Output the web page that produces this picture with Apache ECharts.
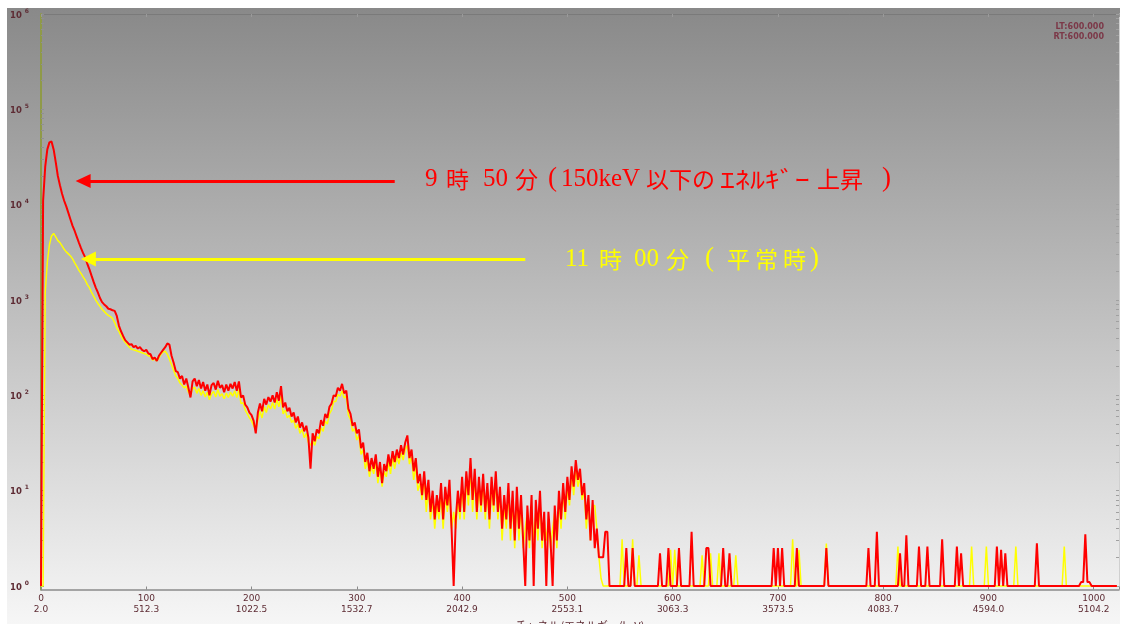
<!DOCTYPE html>
<html>
<head>
<meta charset="utf-8">
<script src="https://cdn.jsdelivr.net/npm/echarts@6/dist/echarts.min.js"></script>
<style>
  html, body { margin: 0; padding: 0; background: #ffffff; }
  #wrap { position: relative; width: 1131px; height: 624px; overflow: hidden; }
  #panel { position: absolute; left: 7px; top: 8px; width: 1113px; height: 616px;
           background: linear-gradient(#898989, #f6f6f6); }
  #chart { position: absolute; left: 0; top: 0; width: 1131px; height: 624px; }
</style>
</head>
<body>
<div id="wrap"><div id="panel"></div><div id="chart"></div></div>
<script>
// Spectrum counts, one value every CH_STEP channels.
const CH_STEP = 2;

// 09:50 spectrum, channels 0..540
const redCountsLow = [
  1, 11000, 25000, 38000, 45000, 46000, 38000, 28000, 20000, 16000,
  13000, 11000, 9600, 8200, 7000, 6000, 5300, 4600, 4000, 3500,
  3100, 2800, 2400, 2100, 1800, 1550, 1350, 1200, 1050, 950,
  900, 860, 810, 800, 780, 770, 680, 540, 470, 420,
  380, 360, 340, 345, 320, 330, 310, 320, 300, 290,
  300, 275, 270, 240, 250, 230, 260, 280, 300, 320,
  350, 340, 260, 220, 180, 175, 150, 160, 130, 150,
  120, 95, 140, 150, 125, 145, 118, 138, 112, 130,
  100, 128, 135, 115, 142, 120, 128, 108, 130, 112,
  132, 118, 138, 112, 140, 95, 100, 80, 75, 66,
  62, 54, 40, 66, 82, 68, 92, 80, 96, 86,
  100, 84, 108, 88, 125, 75, 84, 68, 74, 60,
  66, 52, 60, 46, 52, 42, 48, 36, 17, 40,
  33, 44, 40, 55, 48, 64, 58, 76, 82, 100,
  98, 120, 112, 132, 105, 112, 72, 64, 48, 52,
  40, 44, 28, 32, 20, 25, 16, 22, 17, 24,
  14, 20, 12, 19, 16, 24, 18, 26, 20, 27,
  22, 30, 24, 32, 38, 22, 27, 16, 22, 12,
  15, 9, 16, 8, 13, 6, 10, 5, 9, 6,
  12, 5, 11, 7, 13, 4, 1, 5, 10, 6,
  14, 6, 16, 9, 22, 8, 17, 6, 14, 7,
  15, 6, 12, 5, 14, 7, 16, 6, 11, 4,
  9, 5, 12, 4, 10, 3, 11, 4, 9, 3,
  1, 7, 3, 9, 1, 8, 4, 10, 3, 6,
  1, 6, 3, 1, 7, 3, 10, 5, 12, 6,
  14, 8, 18, 11, 21, 13, 17, 9, 12, 5,
  9, 3, 8, 2.5, 4, 2, 2, 2, 3.7, 3.7,
  1
];
// 09:50 spectrum, channels 542..1022
const redCountsHigh = [
  1, 1, 1, 1, 1, 1, 1, 2.5, 1, 1, 2.5, 1, 1, 1, 1, 1, 1, 1, 1, 1,
  1, 1, 1, 2.2, 1, 1, 1, 2.5, 1, 1, 1, 1, 2.5, 1, 1, 1, 1, 1, 3.7, 1,
  1, 1, 1, 1, 1, 2.5, 2.5, 1, 1, 1, 1, 1, 1, 2.5, 1, 1, 2.2, 1, 1, 1,
  1, 1, 1, 1, 1, 1, 1, 1, 1, 1, 1, 1, 1, 1, 1, 1, 1, 2.5, 1, 2.5,
  1, 2.5, 1, 1, 1, 1, 1, 1, 2.5, 1, 1, 1, 1, 1, 1, 1, 1, 1, 1, 1,
  1, 1, 2.5, 1, 1, 1, 1, 1, 1, 1, 1, 1, 1, 1, 1, 1, 1, 1, 1, 1,
  1, 1, 2.5, 1, 1, 1, 3.7, 1, 1, 1, 1, 1, 1, 1, 1, 1, 1, 2.2, 1, 1,
  3.4, 1, 1, 1, 1, 1, 2.6, 1, 1, 1, 2.6, 1, 1, 1, 1, 1, 1, 3.1, 1, 1,
  1, 1, 1, 1, 2.6, 1, 2.2, 1, 1, 1, 1, 1, 1, 1, 1, 1, 1, 1, 1, 1,
  1, 1, 1, 2.6, 1, 2.4, 1, 2.2, 1, 1, 1, 1, 1, 1, 1, 1, 1, 1, 1, 1,
  1, 1, 2.8, 1, 1, 1, 1, 1, 1, 1, 1, 1, 1, 1, 1, 1, 1, 1, 1, 1,
  1, 1, 1, 1.1, 1.1, 3.5, 1.1, 1.1, 1, 1, 1, 1, 1, 1, 1, 1, 1, 1, 1, 1,
  1
];

// 11:00 spectrum, channels 0..540
const yellowCountsLow = [
  1, 1, 1200, 2500, 3800, 4700, 5000, 4600, 4200, 4000,
  3700, 3400, 3200, 3050, 2900, 2700, 2450, 2250, 2050, 1900,
  1750, 1620, 1450, 1350, 1200, 1100, 1000, 920, 860, 800,
  760, 720, 690, 670, 640, 580, 510, 470, 420, 385,
  360, 340, 320, 305, 300, 295, 290, 285, 280, 275,
  270, 260, 255, 235, 240, 230, 245, 270, 285, 290,
  270, 240, 210, 185, 160, 150, 135, 128, 120, 125,
  108, 100, 118, 122, 105, 118, 100, 112, 96, 108,
  90, 104, 110, 96, 115, 98, 104, 92, 106, 95,
  108, 98, 112, 95, 115, 82, 84, 70, 64, 58,
  54, 48, 44, 55, 68, 58, 76, 66, 80, 72,
  84, 72, 90, 76, 98, 64, 70, 58, 62, 52,
  55, 45, 50, 40, 44, 36, 40, 32, 30, 34,
  30, 37, 35, 46, 42, 54, 50, 64, 70, 86,
  86, 102, 98, 112, 94, 98, 62, 56, 42, 45,
  34, 38, 24, 27, 17, 21, 14, 18, 15, 20,
  12, 17, 11, 16, 14, 20, 15, 22, 17, 23,
  19, 25, 21, 27, 30, 19, 23, 13, 18, 10,
  12, 8, 13, 6, 11, 5, 8, 4, 7, 5,
  9, 4, 9, 6, 10, 4, 6, 4, 8, 5,
  11, 5, 13, 7, 17, 6, 14, 5, 11, 6,
  12, 5, 10, 4, 11, 6, 13, 5, 9, 3,
  7, 4, 10, 3, 8, 2.5, 9, 3, 7, 2.5,
  4, 6, 2.5, 7, 3, 6, 3, 8, 2.5, 5,
  3, 5, 2.5, 4, 6, 2.5, 8, 4, 10, 5,
  11, 7, 15, 9, 17, 11, 14, 8, 10, 4,
  8, 3, 7, 7, 4, 2, 1.2, 1, 1, 1,
  1
];
// 11:00 spectrum, channels 542..1022
const yellowCountsHigh = [
  1, 1, 1, 1, 1, 3.1, 1, 1, 1, 1, 3.1, 1, 1, 2.1, 1, 1, 1, 1, 1, 1,
  1, 1, 1, 1, 1, 1, 1, 1, 2.4, 1, 2.4, 1, 1, 1, 1, 1, 1, 1, 1, 1,
  1, 1, 1, 2.1, 1, 1, 1, 2.2, 1, 1, 1, 2.2, 1, 1, 1, 1, 1, 1, 1, 2.1,
  1, 1, 1, 1, 1, 1, 1, 1, 1, 1, 1, 1, 1, 1, 1, 1, 1, 1, 1, 1,
  1, 1, 1, 1, 1, 1, 3.1, 1, 1, 2.4, 1, 1, 1, 1, 1, 1, 1, 1, 1, 1,
  1, 1, 2.8, 1, 1, 1, 1, 1, 1, 1, 1, 1, 1, 1, 1, 1, 1, 1, 1, 1,
  1, 1, 1, 1, 1, 1, 1, 1, 1, 1, 1, 1, 1, 1, 1, 1, 2.6, 1, 1, 1,
  1, 1, 1, 1, 1, 1, 1, 1, 1, 1, 1, 1, 1, 1, 1, 1, 1, 1, 1, 1,
  1, 1, 1, 1, 1, 1, 1, 1, 1, 1, 1, 2.6, 1, 1, 1, 1, 1, 1, 2.6, 1,
  1, 1, 1, 1, 1, 1, 1, 1, 1, 1, 1, 1, 2.6, 1, 1, 1, 1, 1, 1, 1,
  1, 1, 1, 1, 1, 1, 1, 1, 1, 1, 1, 1, 1, 1, 1, 2.6, 1, 1, 1, 1,
  1, 1, 1, 1, 1, 1, 1, 1, 1, 1, 1, 1, 1, 1, 1, 1, 1, 1, 1, 1,
  1
];

// Axis tick labels: channel number and the matching energy (keV)
const channelTicks = [0, 100, 200, 300, 400, 500, 600, 700, 800, 900, 1000];
const energyLabels = ['2.0', '512.3', '1022.5', '1532.7', '2042.9', '2553.1',
                      '3063.3', '3573.5', '4083.7', '4594.0', '5104.2'];
const decadeTicks = [1, 10, 100, 1000, 10000, 100000, 1000000];

// Annotation arrows: [channel of tail, channel of head, counts level]
const redArrow = [336, 40, 17700];
const yellowArrow = [460, 45, 2690];

const toPairs = (arr) => arr.map((v, i) => [i * CH_STEP, v]);
const redData = toPairs(redCountsLow.concat(redCountsHigh));
const yellowData = toPairs(yellowCountsLow.concat(yellowCountsHigh));

// log minor ticks 2..9 within each decade
const logTicks = [];
for (let k = 0; k < 6; k++) {
  for (let m = 1; m <= 9; m++) logTicks.push(m * Math.pow(10, k));
}
logTicks.push(1000000);

const labelColor = '#5e2c34';
const chart = echarts.init(document.getElementById('chart'), null, { renderer: 'canvas' });

function arrowLine(a, color, headSize) {
  return {
    silent: true,
    animation: false,
    symbol: ['none', 'triangle'],
    symbolSize: headSize,
    label: { show: false },
    lineStyle: { color: color, width: 3, type: 'solid' },
    data: [[{ coord: [a[0], a[2]] }, { coord: [a[1], a[2]] }]]
  };
}

// annotation text pieces: [text, x, font kind]
const redNote = [
  ['9', 425, 'latin'], ['時', 446, 'cjk'], ['50', 483, 'latin'], ['分', 515, 'cjk'],
  ['(', 548, 'paren'], ['150keV', 561, 'latin'], ['以下の', 646, 'cjk'],
  ['ｴﾈﾙｷﾞｰ', 720, 'kana'], ['上昇', 817, 'cjk'], [')', 882, 'paren']
];
const yellowNote = [
  ['11', 565, 'latin'], ['時', 599, 'cjk'], ['00', 634, 'latin'], ['分', 666, 'cjk'],
  ['(', 705, 'paren'], ['平', 727, 'cjk'], ['常', 755, 'cjk'], ['時', 783, 'cjk'], [')', 810, 'paren']
];
const fonts = {
  latin: '25px "Liberation Serif"',
  paren: '27px "Liberation Serif"',
  cjk: '23px "Noto Sans CJK JP"',
  kana: '23px "Noto Sans CJK JP"'
};
function noteText(pieces, y, color) {
  return pieces.map(([t, x, kind]) => ({
    type: 'text', x: x, y: y, scaleX: kind === 'kana' ? 1.3 : 1,
    style: { text: t, fill: color, font: fonts[kind], align: 'left', verticalAlign: 'middle' }
  }));
}

chart.setOption({
  backgroundColor: 'transparent',
  animation: false,
  grid: { left: 41, right: 12, top: 14, bottom: 34.5, outerBoundsMode: 'none' },
  xAxis: [{
    type: 'value', min: 0, max: 1024, interval: 100,
    name: 'チャネル/エネルギー(keV)', nameLocation: 'middle', nameGap: 26,
    nameTextStyle: { color: labelColor, fontSize: 11, fontFamily: '"Noto Sans CJK JP", "DejaVu Sans"' },
    axisLine: { show: true, onZero: false, lineStyle: { color: '#8a8a8a', width: 1.5 } },
    axisTick: { show: true, inside: true, length: 3, lineStyle: { color: '#8a8a8a' } },
    splitLine: { show: false },
    axisLabel: {
      margin: 4, color: labelColor, fontSize: 9, fontFamily: '"DejaVu Sans"', lineHeight: 11,
      formatter: (v) => {
        const i = channelTicks.indexOf(v);
        return i < 0 ? '' : channelTicks[i] + '\n' + energyLabels[i];
      }
    }
  }, {
    type: 'value', min: 0, max: 1024, interval: 100, position: 'top',
    axisLine: { show: true, onZero: false, lineStyle: { color: '#7a7a7a', width: 1 } },
    axisTick: { show: true, inside: true, length: 3, lineStyle: { color: '#9a9a9a' } },
    axisLabel: { show: false }, splitLine: { show: false }
  }],
  yAxis: [{
    type: 'log', logBase: 10, min: 0.92, max: 1000000,
    axisLine: { show: true, onZero: false, lineStyle: { color: '#8f9a48', width: 2 } },
    axisTick: { show: true, inside: true, length: 3, customValues: logTicks, lineStyle: { color: '#909090' } },
    splitLine: { show: false },
    axisLabel: {
      margin: 12, customValues: decadeTicks,
      formatter: (v) => '{b|10}{s|' + Math.round(Math.log10(v)) + '}',
      rich: {
        b: { color: labelColor, fontSize: 8.5, fontWeight: 'bold', fontFamily: '"DejaVu Sans"', verticalAlign: 'bottom', lineHeight: 12 },
        s: { color: labelColor, fontSize: 6, fontWeight: 'bold', fontFamily: '"DejaVu Sans"', verticalAlign: 'top', padding: [0, 0, 0, 3] }
      }
    }
  }, {
    type: 'log', logBase: 10, min: 0.92, max: 1000000, position: 'right',
    axisLine: { show: true, onZero: false, lineStyle: { color: '#d0d0d0', width: 1 } },
    axisTick: { show: true, inside: true, length: 3, customValues: logTicks, lineStyle: { color: '#a0a0a0' } },
    axisLabel: { show: false }, splitLine: { show: false }
  }],
  series: [{
    name: '11時00分', type: 'line', data: yellowData, showSymbol: false, sampling: null,
    lineStyle: { color: '#ffff00', width: 1.5 }, z: 3,
    markLine: arrowLine(yellowArrow, '#ffff00', [15, 15])
  }, {
    name: '9時50分', type: 'line', data: redData, showSymbol: false, sampling: null,
    lineStyle: { color: '#ff0000', width: 2 }, z: 4,
    markLine: arrowLine(redArrow, '#ff0000', [14, 15])
  }],
  graphic: [{
    type: 'text', x: 1104, y: 27,
    style: { text: 'LT:600.000', fill: '#7c3848', font: 'bold 8px "DejaVu Sans"', align: 'right', verticalAlign: 'middle' }
  }, {
    type: 'text', x: 1104, y: 37,
    style: { text: 'RT:600.000', fill: '#7c3848', font: 'bold 8px "DejaVu Sans"', align: 'right', verticalAlign: 'middle' }
  }].concat(noteText(redNote, 179, '#ff0000'), noteText(yellowNote, 259, '#ffff00'))
});
</script>
</body>
</html>
